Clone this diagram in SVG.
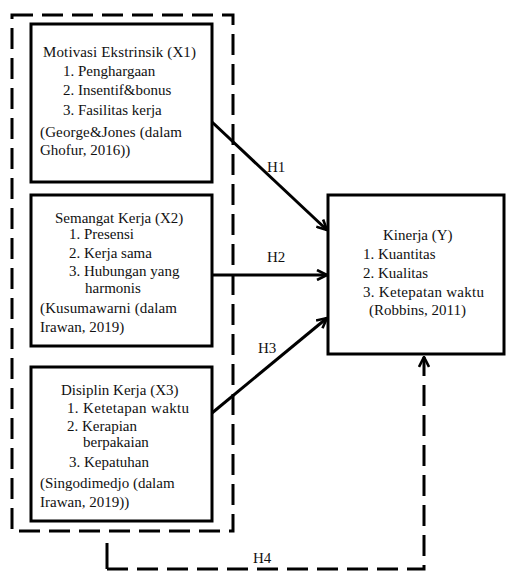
<svg xmlns="http://www.w3.org/2000/svg" width="506" height="572" viewBox="0 0 506 572">
<style>
text{font-family:'Liberation Serif','Times New Roman',serif;font-size:15px;fill:#111}
.box{fill:#fff;stroke:#000;stroke-width:3}
.dash{fill:none;stroke:#000;stroke-width:3;stroke-dasharray:21 9}
.conn{fill:none;stroke:#000;stroke-width:3}
</style>
<defs>
<marker id="arr" viewBox="0 0 12 12" refX="11" refY="6" markerWidth="12" markerHeight="12" markerUnits="userSpaceOnUse" orient="auto">
<path d="M1,1 L11,6 L1,11" fill="none" stroke="#000" stroke-width="2.6"/>
</marker>
</defs>
<rect id="group-x" class="dash" x="12" y="15" width="221" height="516"/>
<g id="x1" font-family="Liberation Serif, serif">
<rect class="box" x="31" y="24" width="181" height="158"/>
<text x="43" y="57" textLength="153">Motivasi Ekstrinsik (X1)</text>
<text x="63" y="76">1. Penghargaan</text>
<text x="63" y="95">2. Insentif&amp;bonus</text>
<text x="63" y="115">3. Fasilitas kerja</text>
<text x="40" y="137" textLength="142">(George&amp;Jones (dalam</text>
<text x="40" y="155">Ghofur, 2016))</text>
</g>
<g id="x2" font-family="Liberation Serif, serif">
<rect class="box" x="31" y="195" width="181" height="151"/>
<text x="55" y="223">Semangat Kerja (X2)</text>
<text x="69" y="239">1. Presensi</text>
<text x="69" y="258">2. Kerja sama</text>
<text x="69" y="276">3. Hubungan yang</text>
<text x="85" y="293">harmonis</text>
<text x="40" y="313" textLength="137">(Kusumawarni (dalam</text>
<text x="40" y="332">Irawan, 2019)</text>
</g>
<g id="x3" font-family="Liberation Serif, serif">
<rect class="box" x="31" y="367" width="181" height="154"/>
<text x="61" y="395">Disiplin Kerja (X3)</text>
<text x="67" y="413" textLength="122">1. Ketetapan waktu</text>
<text x="67" y="431">2. Kerapian</text>
<text x="83" y="447">berpakaian</text>
<text x="69" y="467">3. Kepatuhan</text>
<text x="40" y="488">(Singodimedjo (dalam</text>
<text x="40" y="507">Irawan, 2019))</text>
</g>
<g id="y" font-family="Liberation Serif, serif">
<rect class="box" x="328" y="195" width="176" height="159"/>
<text x="383" y="240">Kinerja (Y)</text>
<text x="363" y="259">1. Kuantitas</text>
<text x="363" y="278">2. Kualitas</text>
<text x="363" y="297" textLength="121">3. Ketepatan waktu</text>
<text x="369" y="315">(Robbins, 2011)</text>
</g>
<g id="connectors" font-family="Liberation Serif, serif">
<line class="conn" x1="212" y1="122" x2="327" y2="230" marker-end="url(#arr)"/>
<line class="conn" x1="212" y1="275" x2="327" y2="275" marker-end="url(#arr)"/>
<line class="conn" x1="212" y1="413" x2="327" y2="318" marker-end="url(#arr)"/>
<path class="conn" d="M107,543 L107,569"/>
<path class="dash" d="M107,569 L424,569 L424,357" marker-end="url(#arr)"/>
<text x="267" y="172">H1</text>
<text x="267" y="262">H2</text>
<text x="258" y="353">H3</text>
<text x="253" y="563">H4</text>
</g>
</svg>
